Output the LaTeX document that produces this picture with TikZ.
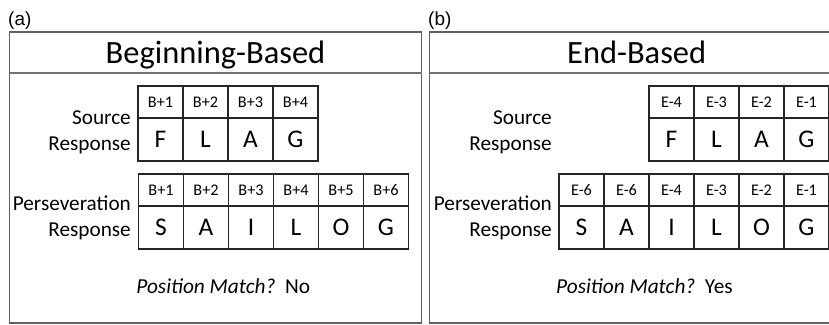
\documentclass[tikz,border=0pt]{standalone}
\usepackage{fontspec}
\setmainfont{Carlito}
\newfontfamily\labfont{Liberation Sans}
\begin{document}
\begin{tikzpicture}[x=1bp,y=-1bp,
  panel/.style={draw=black!62, line width=1.9bp},
  sepline/.style={draw=black!55, line width=1.3bp},
  cellh/.style={draw=black!85, line width=1.5bp, minimum width=45bp, minimum height=32bp, inner sep=0pt, font=\fontsize{16.3}{16.3}\selectfont},
  celll/.style={draw=black!85, line width=1.5bp, minimum width=45bp, minimum height=43bp, inner sep=0pt, font=\fontsize{25.5}{25.5}\selectfont},
  ttl/.style={anchor=base, inner sep=0pt, font=\fontsize{32.6}{32.6}\selectfont},
  lab/.style={anchor=base east, inner sep=0pt, font=\fontsize{21.3}{21.3}\selectfont},
  pm/.style={anchor=base, inner sep=0pt, font=\fontsize{21.4}{21.4}\selectfont},
  plab/.style={anchor=base west, inner sep=0pt, font=\labfont\fontsize{19}{19}\selectfont}]
\useasboundingbox (0,0) rectangle (829,324);
\clip (0,0) rectangle (829,324);
% panel (a)
\node[plab] (la) at (8,25) {(a)};
\draw[panel] (9.5,32) rectangle (421.5,323);
\draw[sepline] (9.5,73) -- (421.5,73);
\node[ttl] (ta) at (215.5,63.3) {Beginning-Based};
\node[lab] (sa1) at (131,124) {Source};
\node[lab] (sa2) at (131,150) {Response};
\node[lab] (pa1) at (131,210) {Perseveration};
\node[lab] (pa2) at (131,236) {Response};
\foreach \t [count=\i] in {B+1,B+2,B+3,B+4}
  \node[cellh] (ash\i) at ({138+45*(\i-0.5)},102) {\t};
\foreach \t [count=\i] in {F,L,A,G}
  \node[celll] (asl\i) at ({138+45*(\i-0.5)},139.5) {\t};
\foreach \t [count=\i] in {B+1,B+2,B+3,B+4,B+5,B+6}
  \node[cellh] (aph\i) at ({138.5+45*(\i-0.5)},190) {\t};
\foreach \t [count=\i] in {S,A,I,L,O,G}
  \node[celll] (apl\i) at ({138.5+45*(\i-0.5)},227.5) {\t};
\node[pm] (ma) at (223.3,293.3) {\textit{Position Match?}\hspace{0.45em}No};
% panel (b)
\node[plab] (lb) at (428,25) {(b)};
\draw[panel] (429.5,32) rectangle (844,323);
\draw[sepline] (429.5,73) -- (844,73);
\node[ttl] (tb) at (636.7,63.3) {End-Based};
\node[lab] (sb1) at (552,124) {Source};
\node[lab] (sb2) at (552,150) {Response};
\node[lab] (pb1) at (552,210) {Perseveration};
\node[lab] (pb2) at (552,236) {Response};
\foreach \t [count=\i] in {E-4,E-3,E-2,E-1}
  \node[cellh] (bsh\i) at ({649+45*(\i-0.5)},102) {\t};
\foreach \t [count=\i] in {F,L,A,G}
  \node[celll] (bsl\i) at ({649+45*(\i-0.5)},139.5) {\t};
\foreach \t [count=\i] in {E-6,E-6,E-4,E-3,E-2,E-1}
  \node[cellh] (bph\i) at ({559+45*(\i-0.5)},190) {\t};
\foreach \t [count=\i] in {S,A,I,L,O,G}
  \node[celll] (bpl\i) at ({559+45*(\i-0.5)},227.5) {\t};
\node[pm] (mb) at (644.5,293.3) {\textit{Position Match?}\hspace{0.45em}Yes};
\end{tikzpicture}
\end{document}
